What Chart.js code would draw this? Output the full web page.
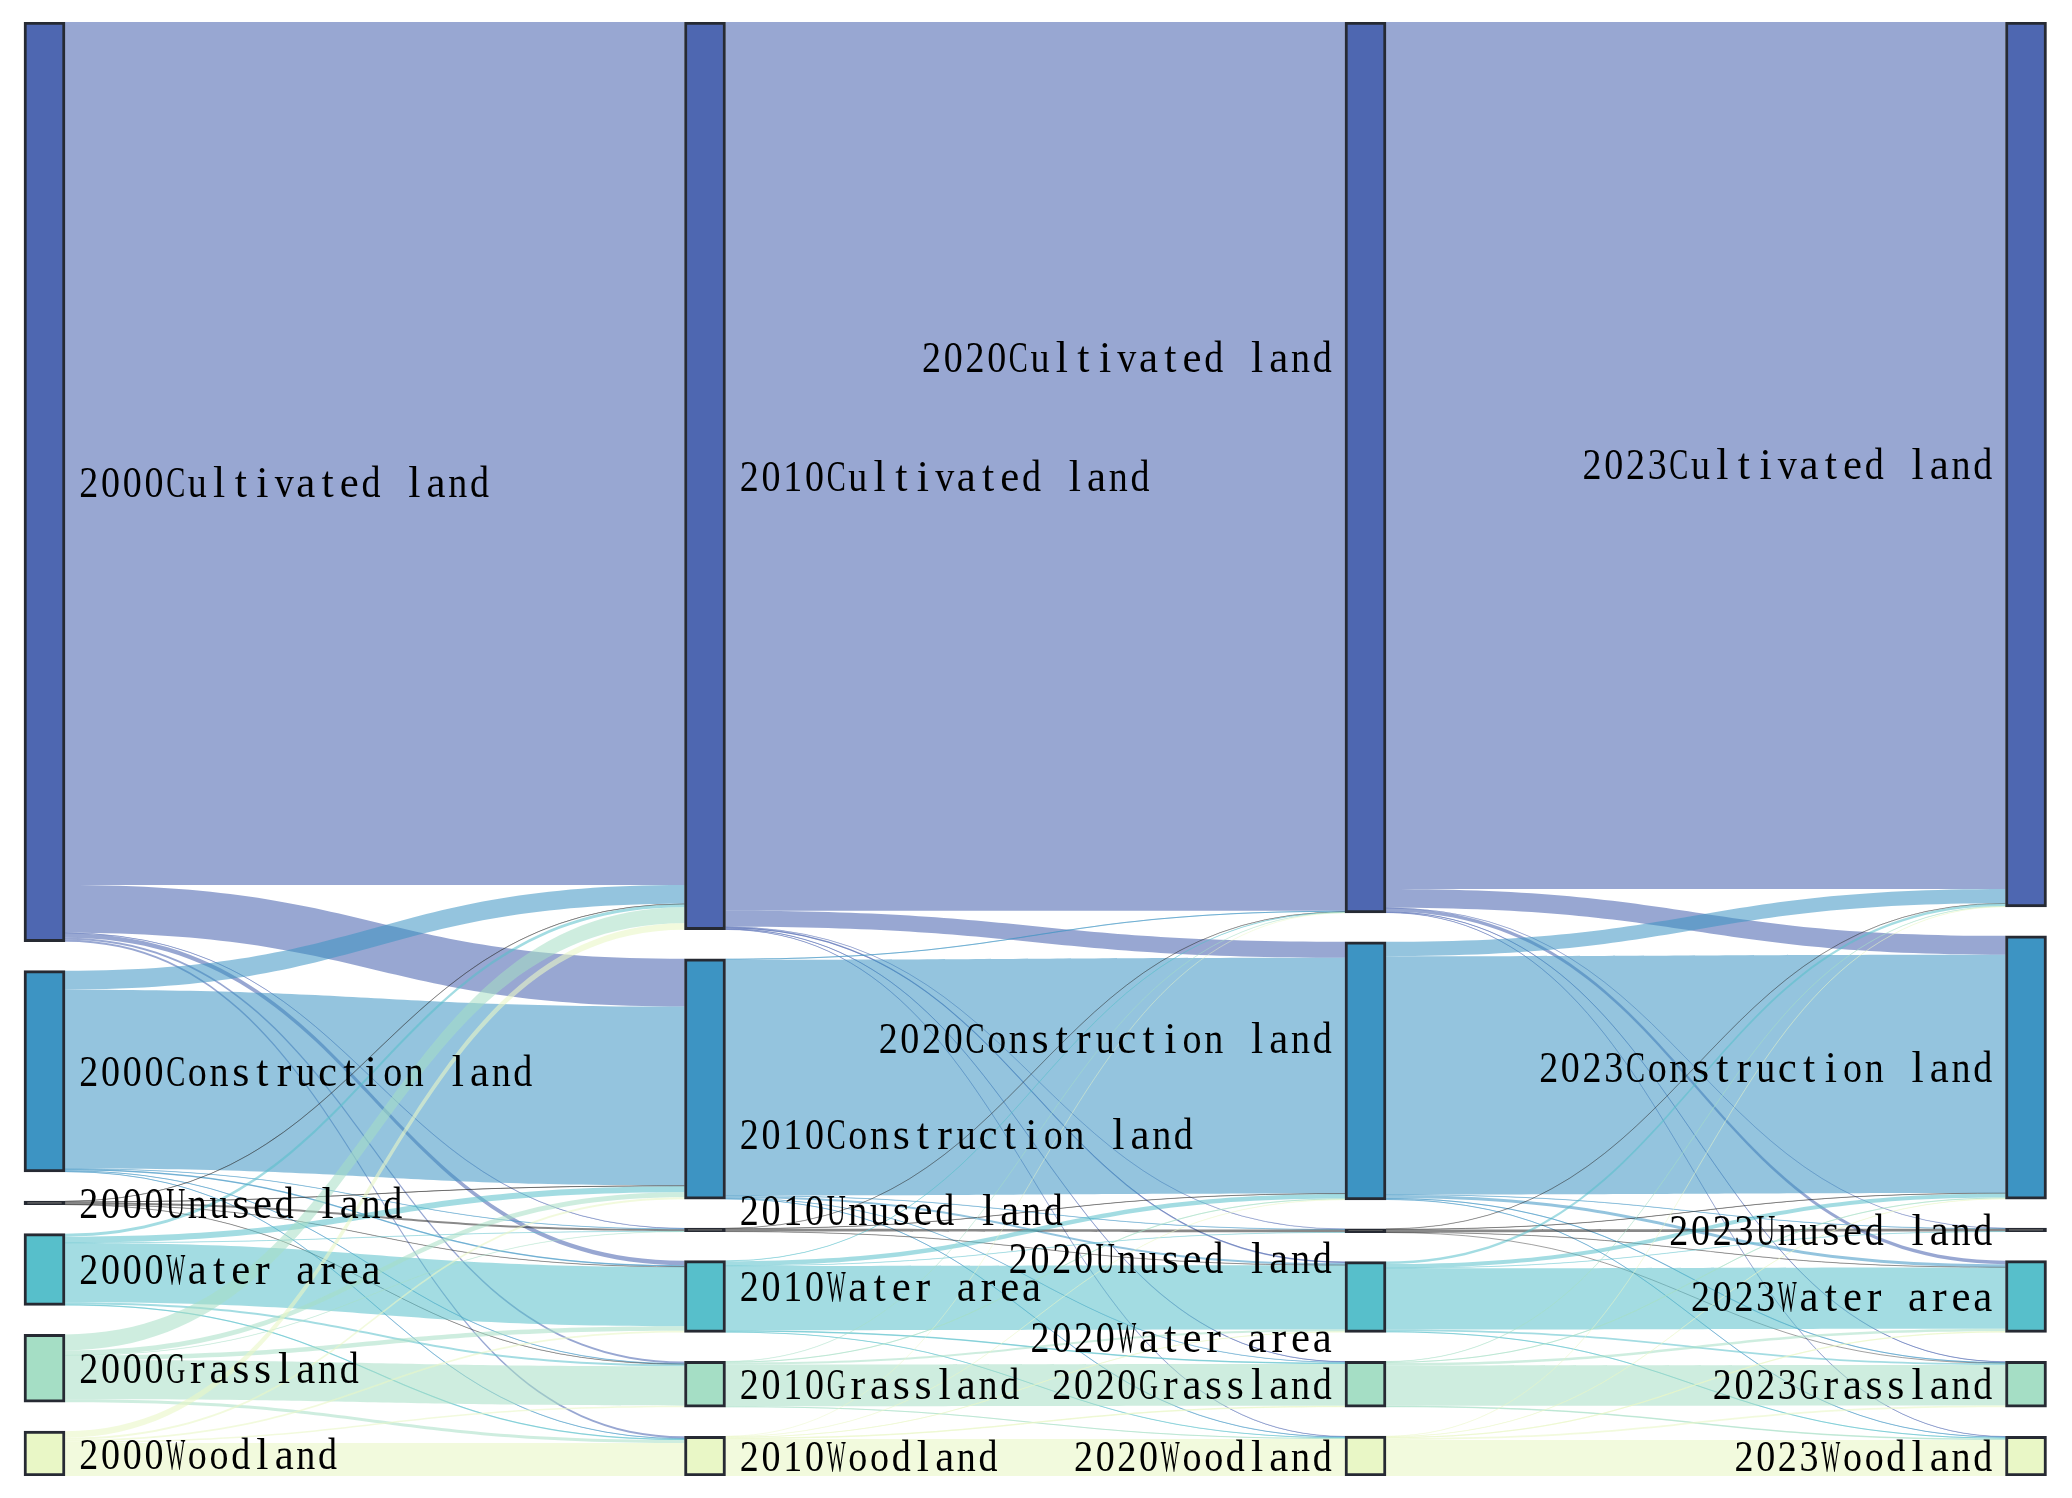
<!DOCTYPE html>
<html>
<head>
<meta charset="utf-8">
<title>Land use transfer 2000-2023</title>
<script src="https://cdn.jsdelivr.net/npm/chart.js@4.4.1/dist/chart.umd.min.js"></script>
<style>
  html, body { margin: 0; padding: 0; background: #fff; overflow: hidden; }
  canvas { display: block; }
</style>
</head>
<body>
<canvas id="chart" width="2072" height="1498"></canvas>
<script>
const years = ["2000", "2010", "2020", "2023"];
const landTypes = ["Cultivated land", "Construction land", "Unused land", "Water area", "Grassland", "Woodland"];

// transfer matrices (km²), row = land type in the earlier year, column = land type in the later year
const flows2000to2010 = [
    [8660, 480, 5, 45, 20, 20],
    [190, 1795, 5, 15, 8, 7],
    [5, 8, 20, 3, 1, 0],
    [30, 60, 3, 595, 20, 12],
    [160, 50, 2, 45, 395, 28],
    [65, 20, 0, 17, 16, 332],
];
const flows2010to2020 = [
    [8920, 160, 3, 15, 6, 6],
    [10, 2365, 5, 20, 7, 6],
    [2, 5, 26, 2, 0, 0],
    [5, 45, 3, 645, 15, 7],
    [2, 10, 0, 20, 418, 10],
    [1, 5, 0, 8, 14, 371],
];
const flows2020to2023 = [
    [8700, 190, 3, 35, 6, 6],
    [145, 2390, 5, 30, 12, 8],
    [2, 5, 26, 3, 1, 0],
    [25, 40, 2, 615, 18, 10],
    [5, 12, 0, 25, 405, 13],
    [3, 5, 0, 12, 18, 362],
];

const nodeColors = ["#4e67b1", "#3d94c3", "#1c1c1c", "#57bfcb", "#a5dec5", "#e9f7c6"];
const linkColors = [
    "rgba(78,103,177,0.58)",
    "rgba(61,148,195,0.55)",
    "rgba(40,40,40,0.55)",
    "rgba(87,191,203,0.55)",
    "rgba(165,222,197,0.55)",
    "rgba(233,247,198,0.6)",
];

const transfers = [flows2000to2010, flows2010to2020, flows2020to2023];

// layout (pixels)
const W = 2072, H = 1498;
const PAD_TOP = 22, PAD_BOTTOM = 22;
const NODE_W = 41, NODE_PAD = 29;
const FIRST_CENTER = 44.5, COL_STEP = 660.5;
// label nudges in px, key = column-row
const labelShift = { "1-1": 55, "1-2": -20, "1-3": -10, "2-0": -110, "2-1": -33, "2-2": 27, "2-3": 40 };

const sum = (a) => a.reduce((s, v) => s + v, 0);

// node value = max(inflow, outflow)
const totals = years.map((_, c) => landTypes.map((_, k) => {
    const out = c < transfers.length ? sum(transfers[c][k]) : 0;
    const inn = c > 0 ? sum(transfers[c - 1].map((row) => row[k])) : 0;
    return Math.max(out, inn);
}));

const maxTotal = Math.max(...totals.map(sum));
const plotH = H - PAD_TOP - PAD_BOTTOM;
const padValue = NODE_PAD * maxTotal / (plotH - NODE_PAD * (landTypes.length - 1));
const yMax = maxTotal + padValue * (landTypes.length - 1);

const starts = totals.map((col) => {
    let acc = 0;
    return col.map((v) => {
        const s = acc;
        acc += v + padValue;
        return s;
    });
});

const datasets = landTypes.map((name, k) => ({
    label: name,
    data: years.map((_, c) => ({ x: c, y: [starts[c][k], starts[c][k] + totals[c][k]] })),
    backgroundColor: nodeColors[k],
}));

const linkPlugin = {
    id: "links",
    beforeDatasetsDraw(chart) {
        const { ctx } = chart;
        const x = chart.scales.x, y = chart.scales.y;
        ctx.save();
        transfers.forEach((m, t) => {
            const links = [];
            for (let i = 0; i < m.length; i++) {
                let o = starts[t][i];
                for (let j = 0; j < m[i].length; j++) {
                    if (m[i][j] > 0) links.push({ i, j, v: m[i][j], s0: o });
                    o += m[i][j];
                }
            }
            for (let j = 0; j < landTypes.length; j++) {
                let o = starts[t + 1][j];
                for (let i = 0; i < m.length; i++) {
                    if (m[i][j] > 0) links.find((l) => l.i === i && l.j === j).t0 = o;
                    o += m[i][j];
                }
            }
            const x0 = x.getPixelForValue(t) + NODE_W / 2;
            const x1 = x.getPixelForValue(t + 1) - NODE_W / 2;
            const xm = (x0 + x1) / 2;
            links.forEach((l) => {
                const a0 = y.getPixelForValue(l.s0), a1 = y.getPixelForValue(l.s0 + l.v);
                const b0 = y.getPixelForValue(l.t0), b1 = y.getPixelForValue(l.t0 + l.v);
                ctx.beginPath();
                ctx.moveTo(x0, a0);
                ctx.bezierCurveTo(xm, a0, xm, b0, x1, b0);
                ctx.lineTo(x1, b1);
                ctx.bezierCurveTo(xm, b1, xm, a1, x0, a1);
                ctx.closePath();
                ctx.fillStyle = linkColors[l.i];
                ctx.fill();
                if (Math.abs(a1 - a0) < 1.5) {
                    const am = (a0 + a1) / 2, bm = (b0 + b1) / 2;
                    ctx.beginPath();
                    ctx.moveTo(x0, am);
                    ctx.bezierCurveTo(xm, am, xm, bm, x1, bm);
                    ctx.lineWidth = 0.8;
                    ctx.strokeStyle = linkColors[l.i];
                    ctx.stroke();
                }
            });
        });
        ctx.restore();
    },
};

// fixed-pitch text drawn glyph by glyph with a serif face
const CELL = 21.7, GLYPH_MAX = 19;
function monoText(ctx, text, x, y, align) {
    let left = align === "right" ? x - CELL * text.length : x;
    ctx.textAlign = "center";
    for (const ch of text) {
        if (ch !== " ") {
            const w = ctx.measureText(ch).width;
            const sx = w > GLYPH_MAX ? GLYPH_MAX / w : 1;
            ctx.save();
            ctx.translate(left + CELL / 2, y);
            ctx.scale(sx, 1);
            ctx.fillText(ch, 0, 0);
            ctx.restore();
        }
        left += CELL;
    }
}

const labelPlugin = {
    id: "nodeLabels",
    afterDatasetsDraw(chart) {
        const { ctx } = chart;
        const x = chart.scales.x, y = chart.scales.y;
        const fs = 44;
        ctx.save();
        ctx.font = fs + 'px "Liberation Serif", "DejaVu Serif", serif';
        ctx.fillStyle = "#000";
        ctx.textBaseline = "alphabetic";
        years.forEach((yr, c) => {
            const cx = x.getPixelForValue(c);
            const onRight = c < years.length / 2;
            landTypes.forEach((name, k) => {
                const mid = y.getPixelForValue(starts[c][k] + totals[c][k] / 2) + (labelShift[c + "-" + k] || 0);
                const tx = onRight ? cx + NODE_W / 2 + 13 : cx - NODE_W / 2 - 12;
                monoText(ctx, yr + name, tx, mid + fs * 0.34, onRight ? "left" : "right");
            });
        });
        ctx.restore();
    },
};

new Chart(document.getElementById("chart"), {
    type: "bar",
    data: { datasets },
    options: {
        responsive: false,
        animation: false,
        devicePixelRatio: 1,
        layout: { padding: { top: PAD_TOP, bottom: PAD_BOTTOM, left: 0, right: 0 } },
        datasets: {
            bar: {
                grouped: false,
                barThickness: NODE_W,
                borderWidth: 3,
                borderColor: "#262a33",
                borderSkipped: false,
            },
        },
        scales: {
            x: {
                type: "linear",
                display: false,
                offset: false,
                min: -FIRST_CENTER / COL_STEP,
                max: (W - FIRST_CENTER) / COL_STEP,
            },
            y: { type: "linear", display: false, reverse: true, min: 0, max: yMax },
        },
        plugins: { legend: { display: false }, tooltip: { enabled: false } },
    },
    plugins: [linkPlugin, labelPlugin],
});
</script>
</body>
</html>
